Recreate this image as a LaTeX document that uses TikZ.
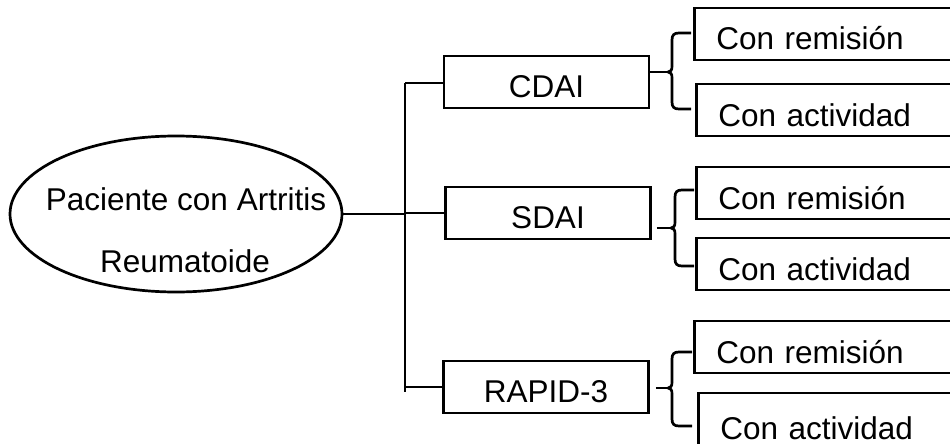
\documentclass[tikz,border=0pt]{standalone}
\usepackage{fontspec}
\setmainfont{Liberation Sans}
\usetikzlibrary{shapes.geometric}
\newcommand\curlybrace[5]{% #1 vertical x, #2 top y, #3 tip y, #4 bottom y, #5 end x
  \draw[bracepath] (#5,#2) -- ({#1+7},#2) .. controls ({#1+2},#2) and (#1,{#2+2}) .. (#1,{#2+7})
    -- (#1,{#3-6}) .. controls (#1,{#3-2}) and ({#1-1},#3) .. ({#1-4},#3)
    .. controls ({#1-1},#3) and (#1,{#3+2}) .. (#1,{#3+6})
    -- (#1,{#4-7}) .. controls (#1,{#4-2}) and ({#1+2},#4) .. ({#1+7},#4) -- (#5,#4);}
\begin{document}
\begin{tikzpicture}[x=1pt,y=-1pt,line width=2.7pt,
  bigfont/.style={font=\fontsize{31.5}{38}\selectfont},
  txt/.style={bigfont,inner sep=0pt},
  midbox/.style={draw,bigfont,anchor=base,text height=41pt,text depth=11pt,
    inner ysep=0pt,inner xsep=0pt,minimum width=205pt},
  rbox/.style={draw,bigfont,anchor=base west,text height=42pt,text depth=10pt,
    inner ysep=0pt,inner xsep=22pt,text width=260pt,align=left},
  bracepath/.style={line width=2.7pt,line join=round},
  link/.style={line width=2.7pt}]
\useasboundingbox (0,0) rectangle (950,444);
\clip (0,0) rectangle (950,444);
\fill[white] (0,0) rectangle (950,444);

% root ellipse
\node[draw,ellipse,minimum width=332pt,minimum height=156pt,inner sep=0pt] (pac) at (176,214) {};
\node[txt,anchor=base] (pt1) at (186,210) {Paciente con Artritis};
\node[txt,anchor=base] (pt2) at (185,272) {Reumatoide};

% middle boxes
\node[midbox] (cdai) at (546.5,97) {CDAI};
\node[midbox] (sdai) at (548,228) {SDAI};
\node[midbox] (rap) at (546,402) {RAPID-3};

% spine
\coordinate (st) at (405,83);
\coordinate (sb) at (405,392);
\draw[link] (st) -- (sb);
\draw[link] (pac.east) -- (pac.east -| st);
\draw[link] (st) -- (st -| cdai.west);
\draw[link] (sdai.west -| st) -- (sdai.west);
\draw[link] (rap.west -| st) -- (rap.west);

% right boxes
\node[rbox] (r1) at (693,50) {Con remisión};
\node[rbox] (r2) at (695,126) {Con actividad};
\node[rbox] (r3) at (695,209) {Con remisión};
\node[rbox] (r4) at (695,280) {Con actividad};
\node[rbox] (r5) at (693,363) {Con remisión};
\node[rbox,text height=46pt] (r6) at (697,439) {Con actividad};

% braces
\curlybrace{672}{33}{72}{109}{691}
\curlybrace{675}{190}{228}{266}{694}
\curlybrace{672}{352}{388}{426}{692}
\coordinate (t1) at (668,72);
\coordinate (t2) at (671,228);
\coordinate (t3) at (668,388);
\draw[link] (cdai.east |- t1) -- (t1);
\draw[link] ([xshift=5pt]sdai.east |- t2) -- (t2);
\draw[link] ([xshift=6pt]rap.east |- t3) -- (t3);
\end{tikzpicture}
\end{document}
